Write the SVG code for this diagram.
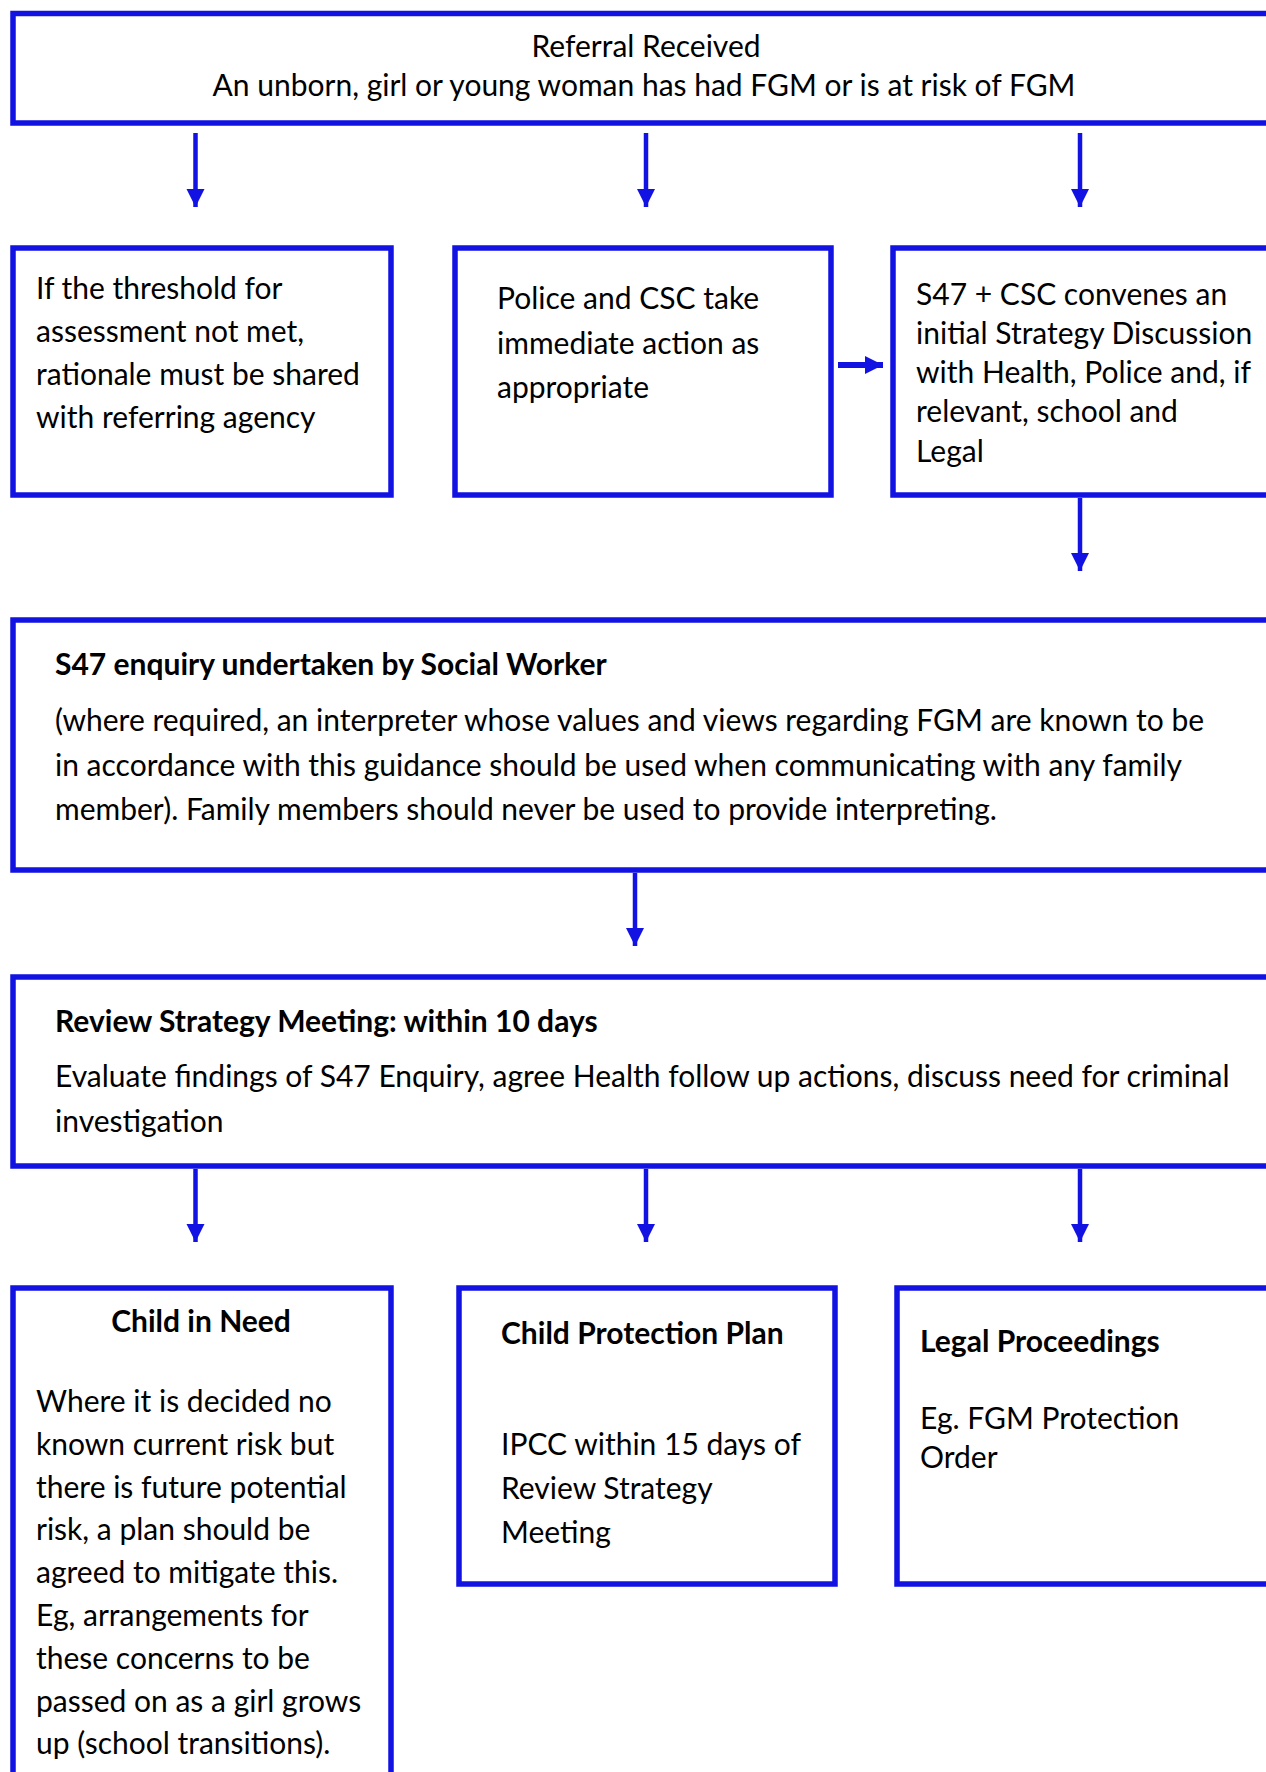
<svg xmlns="http://www.w3.org/2000/svg" width="1266" height="1772" viewBox="0 0 1266 1772">
<style>
.box{fill:#fff;stroke:#1212E2;stroke-width:5.5}
.t{font-family:Lato,"Open Sans","Liberation Sans",sans-serif;font-size:30px;fill:#000}
.b{font-weight:bold}
.c{text-anchor:middle}
.ar{stroke:#1212E2;stroke-width:4.5;fill:none}
.ar2{stroke:#1212E2;stroke-width:6;fill:none}
</style>
<defs>
<marker id="ah" viewBox="0 0 10 10" refX="10" refY="5" markerUnits="userSpaceOnUse" markerWidth="18" markerHeight="19" orient="auto">
<path d="M0,0 L10,5 L0,10 z" fill="#1212E2"/>
</marker>
</defs>
<rect width="1266" height="1772" fill="#fff"/>
<g id="connectors">
<line class="ar" x1="195.5" y1="133" x2="195.5" y2="207" marker-end="url(#ah)"/>
<line class="ar" x1="646" y1="133" x2="646" y2="207" marker-end="url(#ah)"/>
<line class="ar" x1="1080" y1="133" x2="1080" y2="207" marker-end="url(#ah)"/>
<line class="ar2" x1="838" y1="365" x2="883" y2="365" marker-end="url(#ah)"/>
<line class="ar" x1="1080" y1="498" x2="1080" y2="571" marker-end="url(#ah)"/>
<line class="ar" x1="635" y1="873" x2="635" y2="946" marker-end="url(#ah)"/>
<line class="ar" x1="195.5" y1="1169" x2="195.5" y2="1242" marker-end="url(#ah)"/>
<line class="ar" x1="646" y1="1169" x2="646" y2="1242" marker-end="url(#ah)"/>
<line class="ar" x1="1080" y1="1169" x2="1080" y2="1242" marker-end="url(#ah)"/>
</g>
<g id="referral">
<rect class="box" x="13" y="13.5" width="1300" height="109.5"/>
<text class="t c" x="646" y="57">Referral Received</text>
<text class="t c" x="644" y="96">An unborn, girl or young woman has had FGM or is at risk of FGM</text>
</g>
<g id="threshold">
<rect class="box" x="13" y="248" width="378" height="247"/>
<text class="t" x="36" y="298.5">If the threshold for</text>
<text class="t" x="36" y="341.5">assessment not met,</text>
<text class="t" x="36" y="384.5">rationale must be shared</text>
<text class="t" x="36" y="427.5">with referring agency</text>
</g>
<g id="police">
<rect class="box" x="455" y="248" width="376" height="247"/>
<text class="t" x="497" y="308.5">Police and CSC take</text>
<text class="t" x="497" y="353.5">immediate action as</text>
<text class="t" x="497" y="397.5">appropriate</text>
</g>
<g id="strategy">
<rect class="box" x="893" y="248" width="400" height="247"/>
<text class="t" x="916" y="305">S47 + CSC convenes an</text>
<text class="t" x="916" y="344">initial Strategy Discussion</text>
<text class="t" x="916" y="383">with Health, Police and, if</text>
<text class="t" x="916" y="422">relevant, school and</text>
<text class="t" x="916" y="462">Legal</text>
</g>
<g id="s47">
<rect class="box" x="13" y="620" width="1300" height="250"/>
<text class="t b" x="55" y="674.5">S47 enquiry undertaken by Social Worker</text>
<text class="t" x="55" y="730.5">(where required, an interpreter whose values and views regarding FGM are known to be</text>
<text class="t" x="55" y="776">in accordance with this guidance should be used when communicating with any family</text>
<text class="t" x="55" y="820">member). Family members should never be used to provide interpreting.</text>
</g>
<g id="review">
<rect class="box" x="13" y="977" width="1300" height="189"/>
<text class="t b" x="55" y="1031.5">Review Strategy Meeting: within 10 days</text>
<text class="t" x="55" y="1087">Evaluate findings of S47 Enquiry, agree Health follow up actions, discuss need for criminal</text>
<text class="t" x="55" y="1132">investigation</text>
</g>
<g id="cin">
<rect class="box" x="13" y="1288" width="378" height="600"/>
<text class="t b c" x="201" y="1332">Child in Need</text>
<text class="t" x="36" y="1411.5">Where it is decided no</text>
<text class="t" x="36" y="1454.5">known current risk but</text>
<text class="t" x="36" y="1497.5">there is future potential</text>
<text class="t" x="36" y="1539.5">risk, a plan should be</text>
<text class="t" x="36" y="1582.5">agreed to mitigate this.</text>
<text class="t" x="36" y="1625.5">Eg, arrangements for</text>
<text class="t" x="36" y="1668.5">these concerns to be</text>
<text class="t" x="36" y="1711.5">passed on as a girl grows</text>
<text class="t" x="36" y="1753.5">up (school transitions).</text>
</g>
<g id="cpp">
<rect class="box" x="459" y="1288" width="376" height="296"/>
<text class="t b" x="501" y="1343.5">Child Protection Plan</text>
<text class="t" x="501" y="1454.5">IPCC within 15 days of</text>
<text class="t" x="501" y="1498.5">Review Strategy</text>
<text class="t" x="501" y="1542.5">Meeting</text>
</g>
<g id="legal">
<rect class="box" x="897" y="1288" width="400" height="296"/>
<text class="t b" x="920" y="1351.5">Legal Proceedings</text>
<text class="t" x="920" y="1429">Eg. FGM Protection</text>
<text class="t" x="920" y="1468">Order</text>
</g>
</svg>
